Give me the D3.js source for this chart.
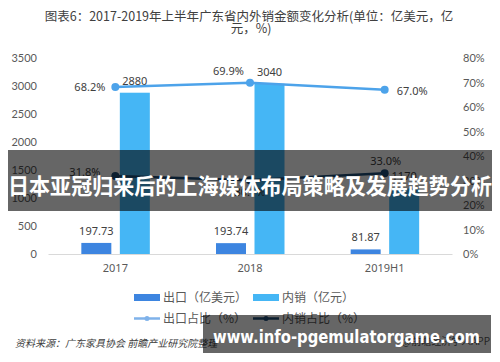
<!DOCTYPE html>
<html>
<head>
<meta charset="utf-8">
<script src="https://cdn.jsdelivr.net/npm/d3@7"></script>
<style>
  body { margin: 0; background: #fff; }
  svg { display: block; }
</style>
</head>
<body>
<div id="chart"></div>
<script>
// data
var categories = ["2017", "2018", "2019H1"];
var exportValues = [197.73, 193.74, 81.87];     // 出口（亿美元）
var domesticValues = [2880, 3040, 1170];        // 内销（亿元）
var exportShare = [31.8, 30.1, 33.0];           // 出口占比（%）
var domesticShare = [68.2, 69.9, 67.0];         // 内销占比（%）
var leftTicks = [0, 500, 1000, 1500, 2000, 2500, 3000, 3500];
var rightTicks = [0, 10, 20, 30, 40, 50, 60, 70, 80];

var width = 500, height = 362;
var cjk = "'Noto Sans CJK SC', sans-serif";
var num = "'Noto Sans', sans-serif";

var svg = d3.select("#chart").append("svg")
    .attr("width", width)
    .attr("height", height);

// title
svg.append("text")
    .attr("x", 249).attr("y", 20.5)
    .attr("text-anchor", "middle")
    .style("font-family", cjk).style("font-size", "12.5px").attr("fill", "#404040")
    .text("图表6：2017-2019年上半年广东省内外销金额变化分析(单位：亿美元，亿");
svg.append("text")
    .attr("x", 251).attr("y", 33)
    .attr("text-anchor", "middle")
    .style("font-family", cjk).style("font-size", "12.5px").attr("fill", "#404040")
    .text("元，%)");

// scales
var x = d3.scaleBand().domain(categories).range([48, 452]);
var y = d3.scaleLinear().domain([0, 3500]).range([254, 58]);
var y2 = d3.scaleLinear().domain([0, 80]).range([254, 58]);
var cx = function(d) { return x(d) + x.bandwidth() / 2; };

// axes
var xAxis = svg.append("g")
    .attr("transform", "translate(0,254)")
    .call(d3.axisBottom(x).tickSize(0).tickPadding(10));
xAxis.select(".domain").attr("stroke", "#d9d9d9");
xAxis.selectAll("text").style("font-family", num).style("font-size", "11px").attr("fill", "#595959");

var yAxis = svg.append("g")
    .attr("transform", "translate(37,0)")
    .call(d3.axisLeft(y).tickValues(leftTicks).tickSize(0).tickPadding(0)
        .tickFormat(d3.format("d")));
yAxis.select(".domain").remove();
yAxis.selectAll("text").style("font-family", "Lato, sans-serif").style("font-size", "11px").attr("fill", "#595959");

var yAxis2 = svg.append("g")
    .attr("transform", "translate(463,0)")
    .call(d3.axisRight(y2).tickValues(rightTicks).tickSize(0).tickPadding(0)
        .tickFormat(function(d) { return d + "%"; }));
yAxis2.select(".domain").remove();
yAxis2.selectAll("text").style("font-family", "Lato, sans-serif").style("font-size", "11px").attr("fill", "#595959");

// bars
var colExport = "#3d85e0", colDomestic = "#45b6f5";
var colLineTop = "#4da3ea", colLineBottom = "#1f4e79";

svg.selectAll(".bar-exp").data(categories).enter().append("rect")
    .attr("x", function(d) { return cx(d) - 34; })
    .attr("width", 30)
    .attr("y", function(d, i) { return y(exportValues[i]); })
    .attr("height", function(d, i) { return y(0) - y(exportValues[i]); })
    .attr("fill", colExport);

svg.selectAll(".bar-dom").data(categories).enter().append("rect")
    .attr("x", function(d) { return cx(d) + 4.5; })
    .attr("width", 30)
    .attr("y", function(d, i) { return y(domesticValues[i]); })
    .attr("height", function(d, i) { return y(0) - y(domesticValues[i]); })
    .attr("fill", colDomestic);

// bar labels
var labelStyle = function(sel) {
  sel.style("font-family", num).style("font-size", "11px").attr("fill", "#404040");
};
svg.selectAll(".lab-exp").data(categories).enter().append("text")
    .attr("x", function(d) { return cx(d) - 19; })
    .attr("y", function(d, i) { return y(exportValues[i]) - 8; })
    .attr("text-anchor", "middle")
    .text(function(d, i) { return exportValues[i]; })
    .call(labelStyle);
svg.selectAll(".lab-dom").data(categories).enter().append("text")
    .attr("x", function(d) { return cx(d) + 19.5; })
    .attr("y", function(d, i) { return y(domesticValues[i]) - 8; })
    .attr("text-anchor", "middle")
    .text(function(d, i) { return domesticValues[i]; })
    .call(labelStyle);

// share lines
var line = function(vals) {
  return d3.line()
      .x(function(d) { return cx(d); })
      .y(function(d, i) { return y2(vals[i]); })(categories);
};
svg.append("path").attr("d", line(domesticShare))
    .attr("fill", "none").attr("stroke", colLineTop).attr("stroke-width", 2.5);
svg.selectAll(".pt-dom").data(categories).enter().append("circle")
    .attr("cx", cx).attr("cy", function(d, i) { return y2(domesticShare[i]); })
    .attr("r", 4).attr("fill", colLineTop);

svg.append("path").attr("d", line(exportShare))
    .attr("fill", "none").attr("stroke", colLineBottom).attr("stroke-width", 2.5);
svg.selectAll(".pt-exp").data(categories).enter().append("circle")
    .attr("cx", cx).attr("cy", function(d, i) { return y2(exportShare[i]); })
    .attr("r", 4).attr("fill", colLineBottom);

// share labels (placement follows the picture)
var domOff = [[-10, 4, "end"], [-6, -8, "end"], [12, 5, "start"]];
svg.selectAll(".lab-ds").data(categories).enter().append("text")
    .attr("x", function(d, i) { return cx(d) + domOff[i][0]; })
    .attr("y", function(d, i) { return y2(domesticShare[i]) + domOff[i][1]; })
    .attr("text-anchor", function(d, i) { return domOff[i][2]; })
    .text(function(d, i) { return domesticShare[i].toFixed(1) + "%"; })
    .call(labelStyle);
var expOff = [[-15, 0, "end"], [0, 16, "middle"], [1, -8, "middle"]];
svg.selectAll(".lab-es").data(categories).enter().append("text")
    .attr("x", function(d, i) { return cx(d) + expOff[i][0]; })
    .attr("y", function(d, i) { return y2(exportShare[i]) + expOff[i][1]; })
    .attr("text-anchor", function(d, i) { return expOff[i][2]; })
    .text(function(d, i) { return exportShare[i].toFixed(1) + "%"; })
    .call(labelStyle);

// legend
var legendItems = [
  { name: "出口（亿美元）", type: "bar", color: colExport, x: 134, y: 297.5 },
  { name: "内销（亿元）", type: "bar", color: colDomestic, x: 253, y: 297.5 },
  { name: "出口占比（%）", type: "line", color: "#7fb2ea", x: 134, y: 318.5 },
  { name: "内销占比（%）", type: "line", color: colLineBottom, x: 253, y: 318.5 }
];
var lg = svg.selectAll(".legend").data(legendItems).enter().append("g")
    .attr("transform", function(d) { return "translate(" + d.x + "," + d.y + ")"; });
lg.filter(function(d) { return d.type === "bar"; }).append("rect")
    .attr("x", 0).attr("y", -3.5).attr("width", 26).attr("height", 7)
    .attr("fill", function(d) { return d.color; });
lg.filter(function(d) { return d.type === "line"; }).append("line")
    .attr("x1", 0).attr("x2", 26).attr("y1", 0).attr("y2", 0)
    .attr("stroke", function(d) { return d.color; }).attr("stroke-width", 2.5);
lg.filter(function(d) { return d.type === "line"; }).append("circle")
    .attr("cx", 13).attr("cy", 0).attr("r", 2.5)
    .attr("fill", function(d) { return d.color; });
lg.append("text")
    .attr("x", 29).attr("y", 4.5)
    .style("font-family", cjk).style("font-size", "12px").attr("fill", "#595959")
    .text(function(d) { return d.name; });

// source line
svg.append("text")
    .attr("x", 15).attr("y", 347)
    .style("font-family", cjk).style("font-size", "10px").style("font-style", "italic")
    .attr("fill", "#404040")
    .text("资料来源：广东家具协会 前瞻产业研究院整理");
svg.append("text")
    .attr("x", 490).attr("y", 345)
    .attr("text-anchor", "end")
    .style("font-family", cjk).style("font-size", "10px")
    .attr("fill", "#595959")
    .text("@前瞻经济学人APP");

// overlay banner
svg.append("rect")
    .attr("x", 8).attr("y", 150).attr("width", 484).attr("height", 61)
    .attr("fill", "#000").attr("fill-opacity", 0.6);
svg.append("text")
    .attr("x", 8).attr("y", 194)
    .attr("textLength", 484).attr("lengthAdjust", "spacingAndGlyphs")
    .style("font-family", cjk).style("font-size", "22px").style("font-weight", "bold")
    .attr("fill", "#fff")
    .text("日本亚冠归来后的上海媒体布局策略及发展趋势分析");

// bottom site box
svg.append("rect")
    .attr("x", 203).attr("y", 315).attr("width", 288).attr("height", 38)
    .attr("fill", "#000").attr("fill-opacity", 0.6);
svg.append("text")
    .attr("x", 213).attr("y", 343)
    .attr("textLength", 267).attr("lengthAdjust", "spacingAndGlyphs")
    .style("font-family", "'DejaVu Sans', sans-serif").style("font-size", "18px").style("font-weight", "bold")
    .attr("fill", "#fff")
    .text("www.info-pgemulatorgame.com");
</script>
</body>
</html>
